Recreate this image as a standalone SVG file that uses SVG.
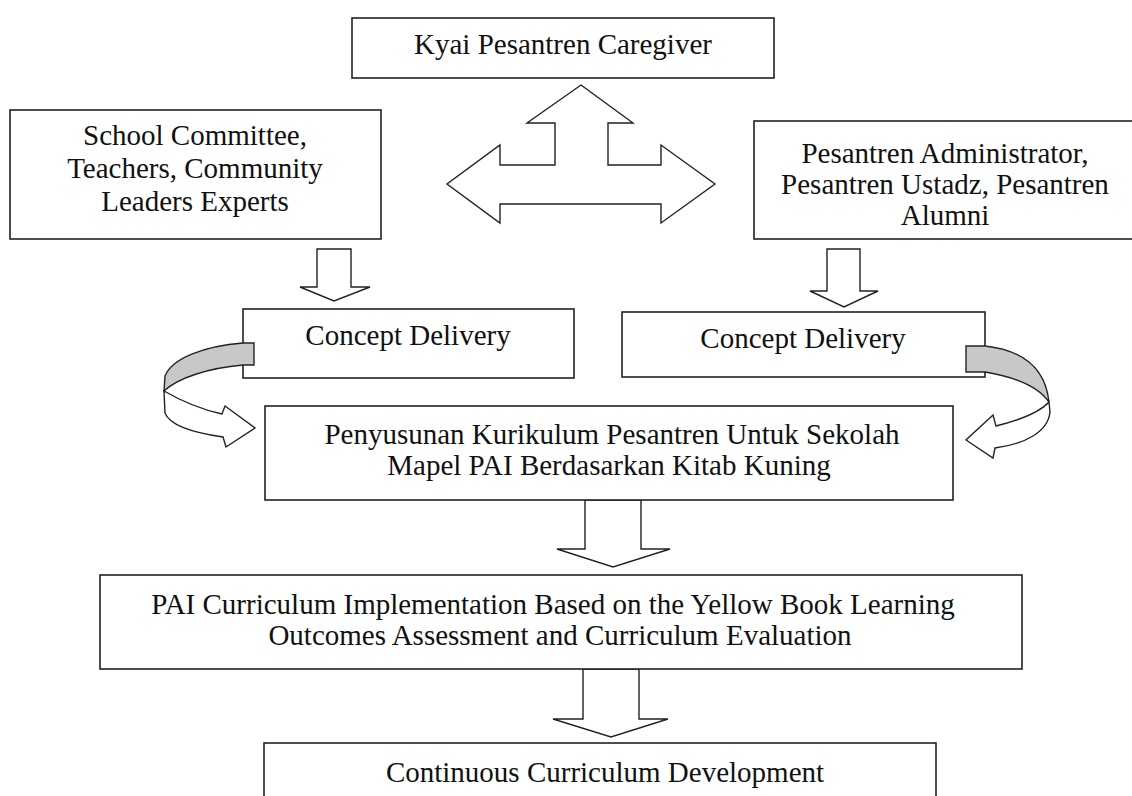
<svg xmlns="http://www.w3.org/2000/svg" width="1132" height="796" viewBox="0 0 1132 796">
<style>
.box{fill:#fff;stroke:#222;stroke-width:1.6}
.arr{fill:#fff;stroke:#222;stroke-width:1.4;stroke-linejoin:miter}
.band{fill:#c8c8c8;stroke:#222;stroke-width:1.4}
text{font-family:"Liberation Serif","Times New Roman",serif;font-size:29px;fill:#111;text-anchor:middle}
</style>
<rect width="1132" height="796" fill="#fff"/>
<g id="connectors">
<polygon class="arr" points="581,85 633,123 608,123 608,165 661,165 661,145 715,184 661,223 661,204 500,204 500,223 447,184 500,145 500,165 555,165 555,123 527,123"/>
<polygon class="arr" points="317,249 351,249 351,287 370,287 334,301 300,287 317,287"/>
<polygon class="arr" points="827,249 860,249 860,291 878,291 844,307 810,291 827,291"/>
<polygon class="arr" points="585,500 641,500 641,549 670,549 613,567 557,549 585,549"/>
<polygon class="arr" points="583,669 639,669 639,719 668,719 611,737 553,719 583,719"/>
</g>
<g id="kyai">
<rect class="box" x="352" y="18" width="422" height="60"/>
<text x="563" y="54">Kyai Pesantren Caregiver</text>
</g>
<g id="school">
<rect class="box" x="10" y="110" width="371" height="129"/>
<text x="195" y="145">School Committee,</text>
<text x="195" y="178">Teachers, Community</text>
<text x="195" y="211">Leaders Experts</text>
</g>
<g id="pesantren">
<rect class="box" x="754" y="121" width="380" height="118"/>
<text x="945" y="163">Pesantren Administrator,</text>
<text x="945" y="194">Pesantren Ustadz, Pesantren</text>
<text x="945" y="225">Alumni</text>
</g>
<g id="concept-left">
<rect class="box" x="243" y="309" width="331" height="69"/>
<text x="408" y="345">Concept Delivery</text>
</g>
<g id="concept-right">
<rect class="box" x="622" y="312" width="363" height="65"/>
<text x="803" y="348">Concept Delivery</text>
</g>
<g id="curve-left">
<path class="band" d="M254,343 L243,343 C205,346 172,358 165,376 L164,391 C178,378 208,368 243,365 L254,365 Z"/>
<path class="arr" d="M164,391 C183,402 204,410 222,414 L225,406 L255,428 L226,447 L223,437 C195,433 170,426 165,413 Z"/>
</g>
<g id="curve-right">
<path class="band" d="M966,346 L985,346 C1020,350 1045,365 1049,402 C1038,386 1015,377 985,372 L966,372 Z"/>
<path class="arr" d="M1049,402 C1040,412 1020,420 996,426 L993,415 L966,440 L993,458 L995,448 C1025,444 1048,432 1050,412 Z"/>
</g>
<g id="penyusunan">
<rect class="box" x="265" y="406" width="688" height="94"/>
<text x="612" y="444">Penyusunan Kurikulum Pesantren Untuk Sekolah</text>
<text x="609" y="475">Mapel PAI Berdasarkan Kitab Kuning</text>
</g>
<g id="implementation">
<rect class="box" x="100" y="575" width="922" height="94"/>
<text x="553" y="614">PAI Curriculum Implementation Based on the Yellow Book Learning</text>
<text x="560" y="645">Outcomes Assessment and Curriculum Evaluation</text>
</g>
<g id="continuous">
<rect class="box" x="264" y="743" width="672" height="60"/>
<text x="605" y="782">Continuous Curriculum Development</text>
</g>
</svg>
